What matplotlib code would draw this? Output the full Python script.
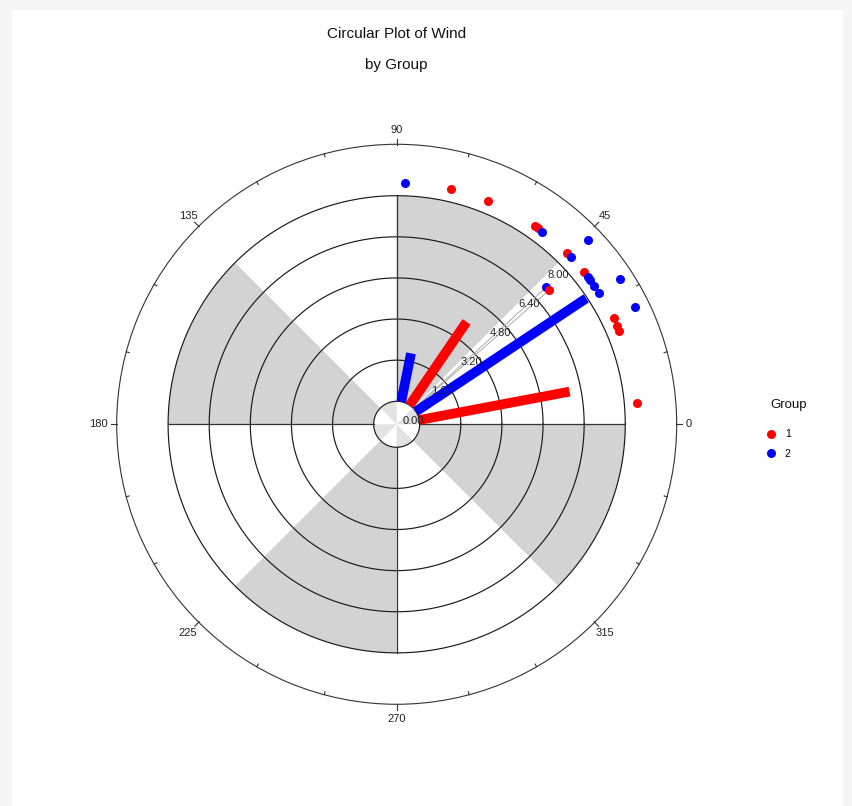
import numpy as np
import matplotlib
matplotlib.use("Agg")
import matplotlib.pyplot as plt
from matplotlib.lines import Line2D
from matplotlib.patches import Rectangle

plt.rcParams['font.family'] = ['Liberation Sans', 'DejaVu Sans']

# --- data (angles in degrees, radii in plot units) ---
red_dirs = [77.0, 67.9, 55.1, 54.3, 45.05, 39.0, 26.0, 24.1, 22.8, 5.0]
red_rad = [8.5, 8.5, 8.5, 8.5, 8.5, 8.5, 8.5, 8.5, 8.5, 8.5]
blue_dirs = [88.0, 52.9, 43.9, 37.6, 36.7, 35.0, 32.9, 44.0, 33.0, 26.1]
blue_rad = [8.5, 8.5, 8.5, 8.5, 8.5, 8.5, 8.5, 9.45, 9.45, 9.45]

# mean direction markers
mean_dirs = {'1': 41.35, '2': 42.5}
mean_rad = 7.0

# vectors (direction, length)
red_vec_dir = [10.7, 55.7]
red_vec_len = [5.95, 3.93]
blue_vec_dir = [33.6, 78.6]
blue_vec_len = [7.96, 1.92]

ring_vals = [0.0, 1.6, 3.2, 4.8, 6.4, 8.0]
ring_labels = ['0.00', '1.60', '3.20', '4.80', '6.40', '8.00']
major_angles = [0, 45, 90, 135, 180, 225, 270, 315]

RED = '#FF0000'
BLUE = '#0000FF'
SHADE = '#D3D3D3'
R_MIN = -0.895
R_MAX = 10.0

fig = plt.figure(figsize=(8.53, 8.06), dpi=100)
fig.patch.set_facecolor('#F5F5F5')
fig.patches.append(Rectangle((12 / 853, 0), (843 - 12) / 853, 1 - 10 / 806,
                             transform=fig.transFigure, facecolor='white',
                             edgecolor='none', zorder=-10))

ax = fig.add_axes([0.1368, 0.1262, 0.6565, 0.6948], projection='polar')
ax.set_facecolor('white')
ax.set_ylim(R_MIN, R_MAX)
ax.set_xticks([])
ax.set_yticks([])
ax.grid(False)
ax.spines['polar'].set_color('#333333')
ax.spines['polar'].set_linewidth(0.8)

# shaded sectors
shade_centers = np.deg2rad([67.5, 157.5, 247.5, 337.5])
ax.bar(shade_centers, 8.0, width=np.pi / 4, bottom=0, color=SHADE,
       edgecolor='none', zorder=1)
hole_centers = np.deg2rad([22.5, 112.5, 202.5, 292.5])
ax.bar(hole_centers, -R_MIN, width=np.pi / 4, bottom=R_MIN, color='#E2E2E2',
       edgecolor='none', zorder=1)

# rings
th = np.linspace(0, 2 * np.pi, 721)
for v in ring_vals:
    ax.plot(th, np.full_like(th, v), color='#1A1A1A', lw=0.85, zorder=2)

# quadrant lines
for a in [0, 90, 180, 270]:
    ax.plot([np.deg2rad(a)] * 2, [0, 8.0], color='#333333', lw=0.9, zorder=2)

# ticks on the outer circle
for a in range(0, 360, 15):
    t = np.deg2rad(a)
    if a % 45 == 0:
        ax.plot([t, t], [9.97, 10.22], color='#333333', lw=0.8, clip_on=False, zorder=2)
    else:
        ax.plot([t, t], [9.88, 10.0], color='#333333', lw=0.8, clip_on=False, zorder=2)

# angle labels
label_align = {0: ('left', 'center'), 90: ('center', 'bottom'),
               180: ('right', 'center'), 270: ('center', 'top')}
for a in major_angles:
    if a in label_align:
        ha, va = label_align[a]
        rr = 10.36
    else:
        ha, va = 'center', 'center'
        rr = 10.58
    ax.text(np.deg2rad(a), rr, str(a), ha=ha, va=va, fontsize=8, color='#222222')

# radial labels
for v, lab in zip(ring_vals, ring_labels):
    ax.annotate(lab, (np.deg2rad(45), v), xytext=(0, -12.5),
                textcoords='offset pixels', ha='center', va='center',
                fontsize=8, color='#222222', zorder=5)

# lines to mean direction markers
for g in ['1', '2']:
    t = np.deg2rad(mean_dirs[g])
    ax.plot([t, t], [0, mean_rad], color='#AAAAAA', lw=0.7, zorder=3)

# vectors
for d, l in zip(red_vec_dir, red_vec_len):
    ax.plot([np.deg2rad(d)] * 2, [0, l], color=RED, lw=7, solid_capstyle='butt', zorder=4)
for d, l in zip(blue_vec_dir, blue_vec_len):
    ax.plot([np.deg2rad(d)] * 2, [0, l], color=BLUE, lw=7, solid_capstyle='butt', zorder=4)

# points
ax.plot(np.deg2rad(red_dirs), red_rad, 'o', color=RED, ms=6.5, mec='none',
        clip_on=False, zorder=6)
ax.plot(np.deg2rad(blue_dirs), blue_rad, 'o', color=BLUE, ms=6.5, mec='none',
        clip_on=False, zorder=6)
ax.plot(np.deg2rad(mean_dirs['2']), mean_rad, 'o', color=BLUE, ms=6.5, mec='none', zorder=6)
ax.plot(np.deg2rad(mean_dirs['1']), mean_rad, 'o', color=RED, ms=6.5, mec='none', zorder=6)

# titles
fig.text(396.7 / 853, 1 - 34 / 806, 'Circular Plot of Wind', ha='center', va='center',
         fontsize=11, color='#111111')
fig.text(396.7 / 853, 1 - 65 / 806, 'by Group', ha='center', va='center',
         fontsize=11, color='#111111')

# legend
fig.text(789 / 853, 1 - 405 / 806, 'Group', ha='center', va='center',
         fontsize=9.5, color='#111111')
handles = [Line2D([], [], marker='o', ls='none', color=RED, ms=6.5, mec='none'),
           Line2D([], [], marker='o', ls='none', color=BLUE, ms=6.5, mec='none')]
fig.legend(handles, ['1', '2'], loc='upper left',
           bbox_to_anchor=(762 / 853, 1 - 424 / 806), frameon=False,
           fontsize=7.5, handlelength=0.8, handletextpad=0.9,
           labelspacing=0.95, borderpad=0)

fig.savefig('out.png', dpi=100, facecolor=fig.get_facecolor())
